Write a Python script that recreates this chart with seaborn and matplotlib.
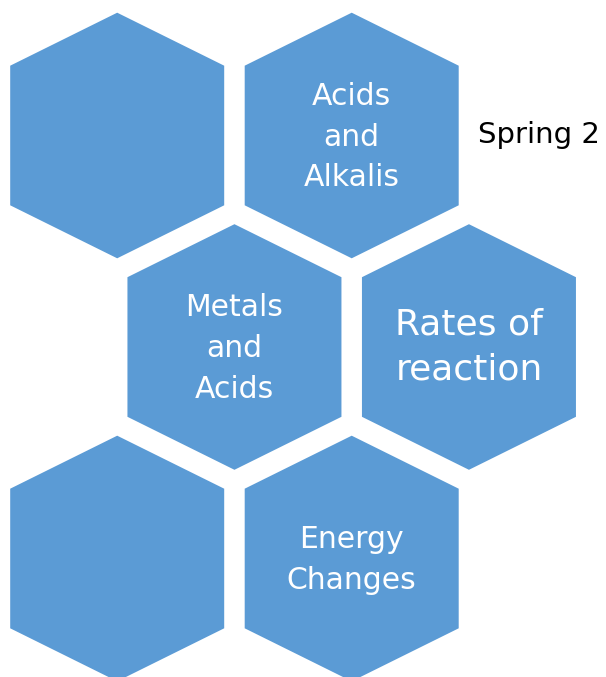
import matplotlib
matplotlib.use("Agg")
import matplotlib.pyplot as plt
from matplotlib.patches import Polygon
import seaborn as sns

# Topics shown on the hexagon grid
topics = ["", "Acids\nand\nAlkalis", "Metals\nand\nAcids", "Rates of\nreaction", "", "Energy\nChanges"]
grid_col = [0, 1, 0.5, 1.5, 0, 1]
grid_row = [0, 0, 1, 1, 2, 2]
side_note = "Spring 2"

sns.set_theme(style="white")
plt.rcParams['font.family'] = ['DejaVu Sans']

fig = plt.figure(figsize=(6.06, 6.77), dpi=100)
ax = fig.add_axes([0, 0, 1, 1])
ax.set_xlim(0, 606)
ax.set_ylim(677, 0)
ax.axis('off')

hex_color = '#5b9bd5'
half_w = 107
half_h = 122.8
shoulder = 69.8

for label, c, r in zip(topics, grid_col, grid_row):
    cx = 117.2 + c * 234.5
    cy = 135.5 + r * 211.5
    pts = [(cx, cy - half_h), (cx + half_w, cy - shoulder), (cx + half_w, cy + shoulder),
           (cx, cy + half_h), (cx - half_w, cy + shoulder), (cx - half_w, cy - shoulder)]
    ax.add_patch(Polygon(pts, closed=True, facecolor=hex_color, edgecolor='none'))
    if not label:
        continue
    if label.startswith("Rates"):
        ax.text(cx, cy, label, color='white', fontsize=26, ha='center', va='center',
                linespacing=1.42)
    else:
        ax.text(cx, cy + 1.5, label, color='white', fontsize=21.5, ha='center', va='center',
                linespacing=1.5)

ax.text(539, 135, side_note, color='black', fontsize=21, ha='center', va='center')

fig.savefig("out.png", dpi=100, facecolor='white')
